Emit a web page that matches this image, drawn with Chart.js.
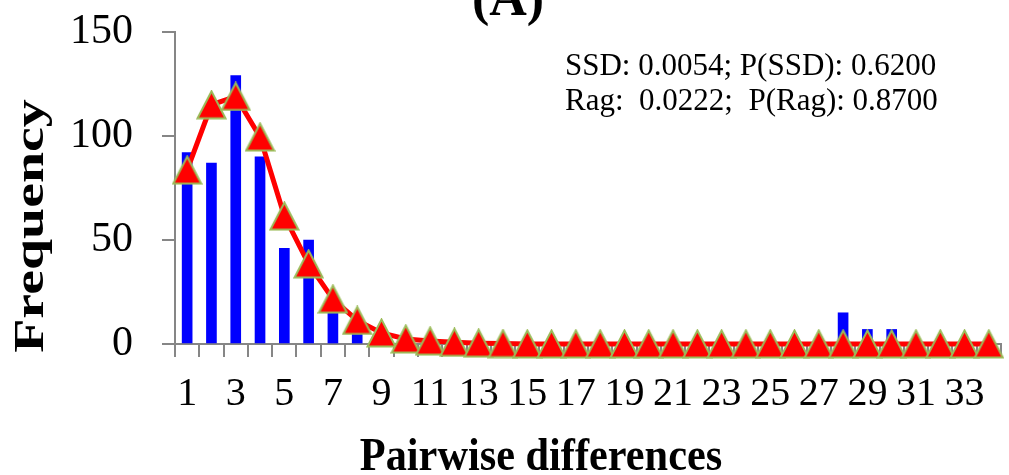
<!DOCTYPE html>
<html>
<head>
<meta charset="utf-8">
<script src="https://cdn.jsdelivr.net/npm/chart.js@4/dist/chart.umd.min.js"></script>
<style>
html,body{margin:0;padding:0;background:#fff;}
#wrap{width:1009px;height:475px;position:relative;}
</style>
</head>
<body>
<div id="wrap"><canvas id="c" width="1009" height="475"></canvas></div>
<script>
// ---- data ----
const categories = [1,2,3,4,5,6,7,8,9,10,11,12,13,14,15,16,17,18,19,20,21,22,23,24,25,26,27,28,29,30,31,32,33,34];
const observed = [92,87,129,90,46,50,18,6,0,0,0,0,0,0,0,0,0,0,0,0,0,0,0,0,0,0,0,15,7,7,0,0,0,0];
const expected = [83.6,115,119,99.5,61.5,38.5,21.6,11.3,5.3,2.4,1.4,0.8,0.4,0.2,0,0,0,0,0,0,0,0,0,0,0,0,0,0,0,0,0,0,0,0];
const yTicks = [0,50,100,150];
const titleText = "(A)";
const statLines = ["SSD: 0.0054; P(SSD): 0.6200", "Rag:  0.0222;  P(Rag): 0.8700"];
const xTitle = "Pairwise differences";
const yTitle = "Frequency";

// triangle marker
function makeTriangle(w, h) {
  const cv = document.createElement('canvas');
  cv.width = w; cv.height = h;
  const g = cv.getContext('2d');
  g.beginPath();
  g.moveTo(w/2, 1.5);
  g.lineTo(w-1.5, h-1.5);
  g.lineTo(1.5, h-1.5);
  g.closePath();
  g.fillStyle = '#FF0000';
  g.fill();
  g.lineWidth = 2;
  g.strokeStyle = '#9BBB59';
  g.lineJoin = 'miter';
  g.stroke();
  return cv;
}
const tri = makeTriangle(31, 30);

const textPlugin = {
  id: 'texts',
  afterDraw(chart) {
    const ctx = chart.ctx;
    ctx.save();
    ctx.fillStyle = '#000';
    // title
    ctx.font = 'bold 52px "Liberation Serif"';
    ctx.textAlign = 'center';
    ctx.textBaseline = 'alphabetic';
    ctx.fillText(titleText, 508, 15);
    // stats
    ctx.font = '31px "Liberation Serif"';
    ctx.textAlign = 'left';
    ctx.fillText(statLines[0], 565, 75);
    ctx.fillText(statLines[1], 565, 110);
    // x title
    ctx.save();
    ctx.translate(541, 470);
    ctx.scale(0.92, 1);
    ctx.font = 'bold 46px "Liberation Serif"';
    ctx.textAlign = 'center';
    ctx.fillText(xTitle, 0, 0);
    ctx.restore();
    // y title
    ctx.save();
    ctx.translate(43, 226);
    ctx.rotate(-Math.PI/2);
    ctx.scale(1.3, 1);
    ctx.font = 'bold 43px "Liberation Serif"';
    ctx.textAlign = 'center';
    ctx.fillText(yTitle, 0, 0);
    ctx.restore();
    ctx.restore();
  }
};

new Chart(document.getElementById('c'), {
  type: 'bar',
  data: {
    labels: categories,
    datasets: [
      {
        type: 'line',
        data: expected,
        borderColor: '#FF0000',
        borderWidth: 5,
        tension: 0,
        pointStyle: tri,
        pointRadius: 15,
        pointHoverRadius: 15,
        fill: false,
        clip: false,
        order: 1
      },
      {
        type: 'bar',
        data: observed,
        backgroundColor: '#0000FF',
        borderWidth: 0,
        barThickness: 10,
        order: 2
      }
    ]
  },
  plugins: [textPlugin],
  options: {
    responsive: false,
    animation: false,
    events: [],
    layout: { autoPadding: false, padding: { top: 32, right: 8, left: 0, bottom: 0 } },
    plugins: { legend: { display: false }, tooltip: { enabled: false }, title: { display: false } },
    scales: {
      x: {
        type: 'category',
        offset: true,
        grid: { display: true, drawOnChartArea: false, drawTicks: true, tickLength: 13, offset: true, color: '#868686', lineWidth: 2 },
        border: { display: true, color: '#868686', width: 2 },
        ticks: {
          autoSkip: false, maxRotation: 0, minRotation: 0, padding: 13, color: '#000',
          font: { family: 'Liberation Serif', size: 40 },
          callback: function(v, i) { return i % 2 === 0 ? String(categories[i]) : ''; }
        },
        afterFit: function(s) { s.height = 131; s.paddingLeft = 0; s.paddingRight = 0; }
      },
      y: {
        min: 0, max: 150,
        afterBuildTicks: function(s) { s.ticks = yTicks.map(v => ({ value: v })); },
        grid: { display: true, drawOnChartArea: false, drawTicks: true, tickLength: 13, color: '#868686', lineWidth: 2 },
        border: { display: true, color: '#868686', width: 2 },
        ticks: { padding: 29, color: '#000', font: { family: 'Liberation Serif', size: 42, lineHeight: 0.5 } },
        afterFit: function(s) { s.width = 175; s.paddingTop = 0; s.paddingBottom = 0; }
      }
    }
  }
});
</script>
</body>
</html>
